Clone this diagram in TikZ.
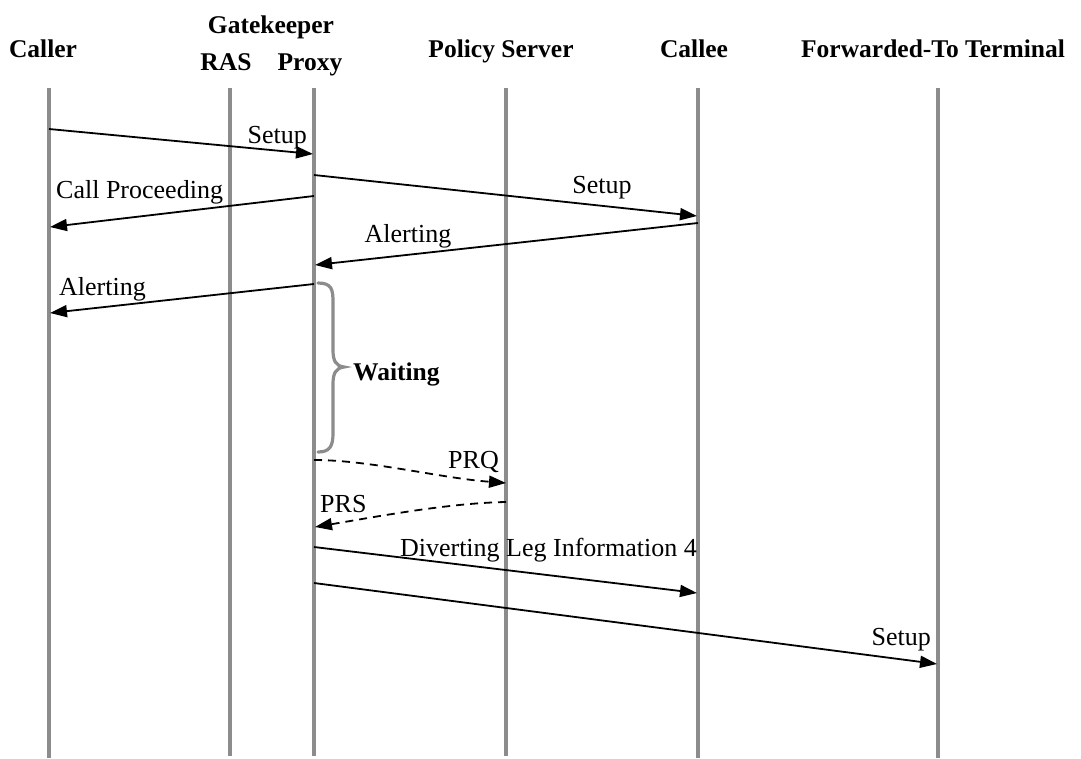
\documentclass[tikz,border=0pt]{standalone}
\usepackage{fontspec}
\setmainfont{Liberation Serif}
\usetikzlibrary{arrows.meta}
\begin{document}
\begin{tikzpicture}[x=1pt,y=-1pt,
  lifeline/.style={draw=lifegray,line width=3.4pt},
  msg/.style={draw=black,line width=1.8pt,-{Triangle[length=17pt,width=12pt]}},
  dmsg/.style={msg,dash pattern=on 8pt off 6pt},
  head/.style={font=\fontsize{25.5}{30}\selectfont\bfseries,anchor=base,inner sep=0pt},
  lbl/.style={font=\fontsize{26}{31}\selectfont,inner sep=0pt},
  bracepath/.style={draw=lifegray,line width=3.2pt,line cap=round}]
\definecolor{lifegray}{RGB}{140,140,140}
\useasboundingbox (0,0) rectangle (1081,758);
% headers
\node[head] (hcaller) at (43,57) {Caller};
\node[head] (hgk) at (271,33) {Gatekeeper};
\node[head] (hras) at (226,70) {RAS};
\node[head] (hproxy) at (310,70) {Proxy};
\node[head] (hpolicy) at (501,57) {Policy Server};
\node[head] (hcallee) at (694,57) {Callee};
\node[head] (hfwd) at (933,57) {Forwarded-To Terminal};
% lifelines
\coordinate (callerT) at (49,88);  \coordinate (callerB) at (49,758);
\coordinate (rasT) at (230,88);    \coordinate (rasB) at (230,756);
\coordinate (proxyT) at (314,88);  \coordinate (proxyB) at (314,756);
\coordinate (policyT) at (506,88); \coordinate (policyB) at (506,756);
\coordinate (calleeT) at (698,88); \coordinate (calleeB) at (698,758);
\coordinate (fwdT) at (938,88);    \coordinate (fwdB) at (938,758);
\foreach \n in {caller,ras,proxy,policy,callee,fwd}
  \draw[lifeline] (\n T) -- (\n B);
% message end points
\coordinate (m1a) at (49,129);  \coordinate (m1b) at (313,154);
\coordinate (m2a) at (314,175); \coordinate (m2b) at (697,216);
\coordinate (m3a) at (314,196); \coordinate (m3b) at (50,227);
\coordinate (m4a) at (698,223); \coordinate (m4b) at (315,265);
\coordinate (m5a) at (314,284); \coordinate (m5b) at (50,313);
\coordinate (m6a) at (314,460); \coordinate (m6b) at (506,483);
\coordinate (m7a) at (506,502); \coordinate (m7b) at (315,527);
\coordinate (m8a) at (314,547); \coordinate (m8b) at (697,593);
\coordinate (m9a) at (314,583); \coordinate (m9b) at (937,664);
% messages
\draw[msg] (m1a) -- (m1b);
\draw[msg] (m2a) -- (m2b);
\draw[msg] (m3a) -- (m3b);
\draw[msg] (m4a) -- (m4b);
\draw[msg] (m5a) -- (m5b);
\draw[dmsg] (m6a) .. controls (370,460) and (440,478) .. (m6b);
\draw[dmsg] (m7a) .. controls (450,503) and (380,516) .. (m7b);
\draw[msg] (m8a) -- (m8b);
\draw[msg] (m9a) -- (m9b);
% labels
\node[lbl,anchor=base east] (l1) at (307,143) {Setup};
\node[lbl,anchor=base] (l2) at (602,193) {Setup};
\node[lbl,anchor=base west] (l3) at (56,198) {Call Proceeding};
\node[lbl,anchor=base] (l4) at (408,242) {Alerting};
\node[lbl,anchor=base west] (l5) at (59,295) {Alerting};
\node[lbl,anchor=base west] (l6) at (448,468) {PRQ};
\node[lbl,anchor=base west] (l7) at (320,512) {PRS};
\node[lbl,anchor=base east] (l8) at (697,556) {Diverting Leg Information 4};
\node[lbl,anchor=base east] (l9) at (931,645) {Setup};
% waiting brace
\draw[bracepath] (318,283) .. controls (332,283) and (333,290) .. (333,302) -- (333,350)
  .. controls (333,361) and (336,366) .. (344,367) .. controls (336,368) and (333,373) .. (333,384)
  -- (333,433) .. controls (333,446) and (330,452) .. (318,452);
\node[font=\fontsize{25.5}{30}\selectfont\bfseries,anchor=base west,inner sep=0pt] (wait) at (353,380) {Waiting};
\end{tikzpicture}
\end{document}
